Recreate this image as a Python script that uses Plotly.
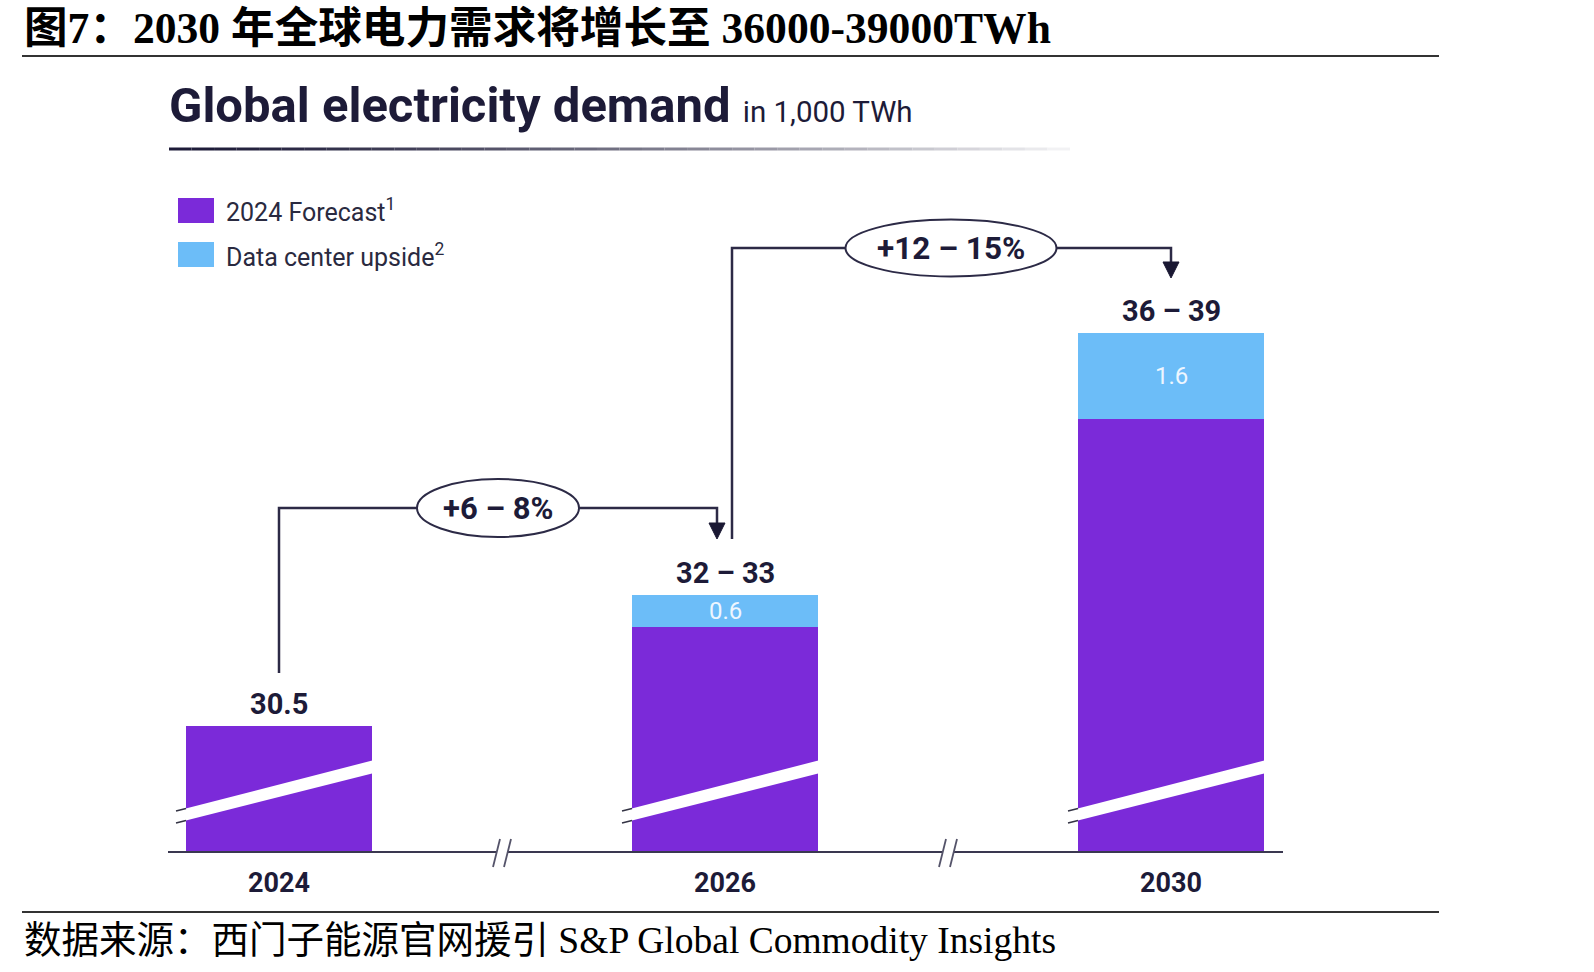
import plotly.graph_objects as go

# ---------------- data ----------------
years = ["2024", "2026", "2030"]
forecast = [30.5, 32.34, 36.2]         # 2024 Forecast (1,000 TWh)
upside = [0.0, 0.6, 1.6]               # Data center upside
upside_text = ["", "0.6", "1.6"]
range_labels = ["30.5", "32 – 33", "36 – 39"]
growth_labels = ["+6 – 8%", "+12 – 15%"]
legend_names = ["2024 Forecast<sup>1</sup>", "Data center upside<sup>2</sup>"]

PURPLE = "#7B2AD9"
BLUE = "#6CBDF8"
NAVY = "#1D1B38"
LINE = "#2C2A46"

# ---------------- geometry ----------------
W, H = 1594, 972
PL, PR, PT, PB = 168, 1283, 150, 852
SLOT = 446.0            # px per category
X0PX = 279.0            # px of first category centre
YMIN = 28.16
PXU = 53.8              # px per unit
x_rng = [(PL - X0PX) / SLOT, (PR - X0PX) / SLOT]
y_rng = [YMIN, YMIN + (PB - PT) / PXU]
BW = 186 / SLOT


def px(p):      # pixel x -> paper x
    return (p - PL) / (PR - PL)


def py(p):      # pixel y -> paper y
    return (PB - p) / (PB - PT)


def dx(p):      # pixel x -> data x
    return (p - X0PX) / SLOT


x = list(range(len(years)))

fig = go.Figure()
fig.add_trace(go.Bar(x=x, y=forecast, name="2024 Forecast", marker_color=PURPLE,
                     marker_line_width=0, width=BW, showlegend=False, hoverinfo="skip"))
fig.add_trace(go.Bar(x=x, y=upside, name="Data center upside", marker_color=BLUE,
                     marker_line_width=0, width=BW, showlegend=False, hoverinfo="skip"))

shapes = []
annos = []

# header & footer rules
for yy in (56, 912):
    shapes.append(dict(type="line", xref="paper", yref="paper", x0=px(22), x1=px(1439),
                       y0=py(yy), y1=py(yy), line=dict(color="#333333", width=2)))

annos.append(dict(xref="paper", yref="paper", x=px(22), y=py(28), xanchor="left", yanchor="middle",
                  showarrow=False,
                  text="<b>图7：2030 年全球电力需求将增长至 36000-39000TWh</b>",
                  font=dict(family="Liberation Serif, Noto Sans CJK SC", size=43.6, color="#000000")))
annos.append(dict(xref="paper", yref="paper", x=px(22), y=py(940), xanchor="left", yanchor="middle",
                  showarrow=False,
                  text="数据来源：西门子能源官网援引 S&amp;P Global Commodity Insights",
                  font=dict(family="Liberation Serif, Noto Sans CJK SC", size=37.5, color="#000000")))

# chart title
annos.append(dict(xref="paper", yref="paper", x=px(167), y=py(105), xanchor="left", yanchor="middle",
                  showarrow=False,
                  text="<b>Global electricity demand</b> <span style='font-size:29.5px'>in 1,000 TWh</span>",
                  font=dict(family="Roboto", size=49, color=NAVY)))

# gradient rule under title
n = 40
x_start, x_end = 169, 1070
c0 = (0x1D, 0x1B, 0x38)
c1 = (0xF2, 0xF2, 0xF4)
for i in range(n):
    t = i / (n - 1)
    tt = min(1, t ** 1.3)
    col = tuple(int(c0[k] + (c1[k] - c0[k]) * tt) for k in range(3))
    xa = x_start + (x_end - x_start) * i / n
    xb = x_start + (x_end - x_start) * (i + 1) / n
    shapes.append(dict(type="line", xref="paper", yref="paper", x0=px(xa), x1=px(xb),
                       y0=py(149), y1=py(149),
                       line=dict(color="rgb(%d,%d,%d)" % col, width=3)))

# legend
for (yt, yb, col, name, yc) in [(198, 223, PURPLE, legend_names[0], 211),
                                (242, 267, BLUE, legend_names[1], 256)]:
    shapes.append(dict(type="rect", xref="paper", yref="paper", x0=px(178), x1=px(214),
                       y0=py(yb), y1=py(yt), fillcolor=col, line=dict(width=0)))
    annos.append(dict(xref="paper", yref="paper", x=px(224), y=py(yc), xanchor="left",
                      yanchor="middle", showarrow=False, text=name,
                      font=dict(family="Roboto", size=25, color="#2A2A40")))

# axis line with breaks
gap = 6 / SLOT
brk = [0.5, 1.5]
segs = [(x_rng[0], brk[0] - gap), (brk[0] + gap, brk[1] - gap), (brk[1] + gap, x_rng[1])]
for a, b in segs:
    shapes.append(dict(type="line", xref="x", yref="paper", x0=a, x1=b, y0=0, y1=0,
                       line=dict(color="#3A3850", width=2)))
for c in brk:
    for off in (-5.5, 5.5):
        shapes.append(dict(type="line", xref="x", yref="paper",
                           x0=c + (off - 3.5) / SLOT, x1=c + (off + 3.5) / SLOT,
                           y0=py(867), y1=py(839), line=dict(color="#55546A", width=1.8)))

# break bands across bars
for i in x:
    xl = i - BW / 2 - 10 / SLOT
    xr = i + BW / 2 + 10 / SLOT
    bl = i - BW / 2
    path = "M %f,%f L %f,%f L %f,%f L %f,%f Z" % (xl, py(811), xr, py(758), xr, py(771), xl, py(823))
    shapes.append(dict(type="path", xref="x", yref="paper", path=path,
                       fillcolor="white", line=dict(width=0)))
    for (yl, yr) in [(811, 808.4), (823, 820.4)]:
        shapes.append(dict(type="line", xref="x", yref="paper", x0=xl, x1=bl,
                           y0=py(yl), y1=py(yr), line=dict(color="#333344", width=1.5)))

# labels inside the upside segments
for i in x:
    if upside_text[i]:
        annos.append(dict(xref="x", yref="y", x=i, y=forecast[i] + upside[i] / 2,
                          yanchor="middle", showarrow=False, text=upside_text[i],
                          font=dict(family="Roboto", size=24, color="#EEF6FF")))

# value labels above bars
for i in x:
    annos.append(dict(xref="x", yref="y", x=i, y=forecast[i] + upside[i], yanchor="bottom",
                      yshift=3, showarrow=False, text="<b>%s</b>" % range_labels[i],
                      font=dict(family="Roboto", size=29, color=NAVY)))

# growth connectors
def connector(x_from, y_from, y_h, x_to, y_tip):
    path = "M %f,%f L %f,%f L %f,%f L %f,%f" % (
        dx(x_from), py(y_from), dx(x_from), py(y_h), dx(x_to), py(y_h), dx(x_to), py(y_tip - 15))
    shapes.append(dict(type="path", xref="x", yref="paper", path=path,
                       line=dict(color=LINE, width=2.5)))
    tri = "M %f,%f L %f,%f L %f,%f Z" % (dx(x_to - 8), py(y_tip - 16), dx(x_to + 8),
                                         py(y_tip - 16), dx(x_to), py(y_tip))
    shapes.append(dict(type="path", xref="x", yref="paper", path=tri,
                       fillcolor="#1A1833", line=dict(color="#1A1833", width=1)))


connector(279, 673, 508, 717, 539)
connector(732, 539, 248, 1171, 278)

for (cx, cy, ew, eh, txt, fs) in [(498, 508, 162, 58, growth_labels[0], 31),
                                  (951, 248, 211, 57, growth_labels[1], 31.5)]:
    shapes.append(dict(type="circle", xref="x", yref="paper",
                       x0=dx(cx - ew / 2), x1=dx(cx + ew / 2), y0=py(cy + eh / 2), y1=py(cy - eh / 2),
                       fillcolor="white", line=dict(color=LINE, width=2)))
    annos.append(dict(xref="x", yref="paper", x=dx(cx), y=py(cy), xanchor="center",
                      yanchor="middle", showarrow=False, text="<b>%s</b>" % txt,
                      font=dict(family="Roboto", size=fs, color=NAVY)))

fig.update_layout(
    width=W, height=H, autosize=False,
    margin=dict(l=PL, r=W - PR, t=PT, b=H - PB, pad=0),
    paper_bgcolor="white", plot_bgcolor="white",
    barmode="stack", bargap=0,
    shapes=shapes, annotations=annos,
    xaxis=dict(range=x_rng, tickvals=x, ticktext=["<b>%s</b>" % y for y in years],
               tickfont=dict(family="Roboto", size=27, color=NAVY),
               showgrid=False, zeroline=False, showline=False, ticks="",
               ticklabelstandoff=12, fixedrange=True),
    yaxis=dict(range=y_rng, visible=False, showgrid=False, zeroline=False, fixedrange=True),
    showlegend=False,
)

fig.write_html("out.html", config={"displayModeBar": False})
